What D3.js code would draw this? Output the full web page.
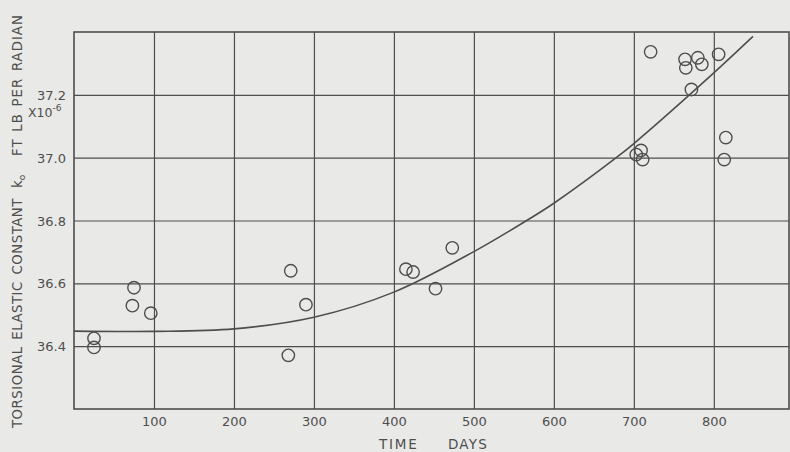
<!DOCTYPE html>
<html>
<head>
<meta charset="utf-8">
<script src="https://cdn.jsdelivr.net/npm/d3@7"></script>
<style>
  body { margin: 0; background: #e9e9e7; }
  svg text { font-family: "DejaVu Sans", sans-serif; fill: #4e4e4e; }
</style>
</head>
<body>
<script>
// measured points, time in days and k0 in 1e-6 ft lb per radian
const days   = [25, 25, 75, 73, 96, 271, 290, 268, 415, 424, 452, 473,
                721, 764, 765, 780, 785, 806, 772, 709, 703, 711, 815, 813];
const kValues = [36.425, 36.396, 36.586, 36.529, 36.505, 36.640, 36.532, 36.371,
                 36.645, 36.636, 36.583, 36.713,
                 37.337, 37.313, 37.286, 37.318, 37.297, 37.329, 37.217,
                 37.023, 37.010, 36.994, 37.064, 36.994];

// fitted curve
const curveDays = [0, 100, 200, 300, 400, 500, 566, 600, 678, 700, 800, 849];
const curveK    = [36.448, 36.447, 36.455, 36.492, 36.572, 36.701, 36.800,
                   36.855, 37.000, 37.045, 37.270, 37.386];

const xTicks = [100, 200, 300, 400, 500, 600, 700, 800];
const yTicks = [36.4, 36.6, 36.8, 37.0, 37.2];

const w = 790;
const h = 452;
const pLeft = 74, pTop = 32, pRight = 789, pBottom = 409;
const ink = "#4e4e4e";

const xScale = d3.scaleLinear().domain([0, 894]).range([pLeft, pRight]);
const yScale = d3.scaleLinear().domain([36.2, 37.4]).range([pBottom, pTop]);

const svg = d3.select("body")
  .append("svg")
  .attr("width", w)
  .attr("height", h);

// grid through the axes
const xAxis = d3.axisBottom(xScale)
  .tickValues(xTicks)
  .tickFormat(d3.format("d"))
  .tickSize(-(pBottom - pTop))
  .tickPadding(5);
const yAxis = d3.axisLeft(yScale)
  .tickValues(yTicks)
  .tickFormat(d3.format(".1f"))
  .tickSize(-(pRight - pLeft))
  .tickPadding(8);

const gx = svg.append("g")
  .attr("transform", "translate(0," + pBottom + ")")
  .attr("id", "x-axis")
  .call(xAxis);
const gy = svg.append("g")
  .attr("transform", "translate(" + pLeft + ",0)")
  .attr("id", "y-axis")
  .call(yAxis);

[gx, gy].forEach(g => {
  g.select(".domain").remove();
  g.selectAll("line").attr("stroke", ink).attr("stroke-width", 1.2);
  g.selectAll("text").attr("font-size", 13).attr("fill", ink);
});
gx.selectAll("text").attr("dy", "0.9em");
gy.selectAll("text").attr("dy", "0.35em");

// frame
svg.append("rect")
  .attr("x", pLeft)
  .attr("y", pTop)
  .attr("width", pRight - pLeft)
  .attr("height", pBottom - pTop)
  .attr("fill", "none")
  .attr("stroke", ink)
  .attr("stroke-width", 1.6);

// fitted curve
const curvePts = curveDays.map((d, i) => [d, curveK[i]]);
svg.append("path")
  .datum(curvePts)
  .attr("fill", "none")
  .attr("stroke", ink)
  .attr("stroke-width", 1.6)
  .attr("d", d3.line()
    .x(d => xScale(d[0]))
    .y(d => yScale(d[1]))
    .curve(d3.curveCatmullRom));

// data points
svg.selectAll("circle.pt")
  .data(days.map((d, i) => [d, kValues[i]]))
  .enter()
  .append("circle")
  .attr("class", "pt")
  .attr("cx", d => xScale(d[0]))
  .attr("cy", d => yScale(d[1]))
  .attr("r", 6.2)
  .attr("fill", "none")
  .attr("stroke", ink)
  .attr("stroke-width", 1.4);

// axis titles
svg.append("text")
  .attr("x", 379).attr("y", 449)
  .attr("font-size", 13.5)
  .attr("letter-spacing", 1.8)
  .text("TIME");
svg.append("text")
  .attr("x", 448).attr("y", 449)
  .attr("font-size", 13.5)
  .attr("letter-spacing", 1.2)
  .text("DAYS");

const ytitle = (yPos, txt, ls, ws) => svg.append("text")
  .attr("transform", "translate(22," + yPos + ") rotate(-90)")
  .attr("font-size", 13.3)
  .attr("letter-spacing", ls)
  .attr("word-spacing", ws)
  .text(txt);
ytitle(428, "TORSIONAL ELASTIC CONSTANT", 0.5, 2);
const k = ytitle(188, "k", 0, 0);
k.append("tspan").attr("font-size", 9).attr("dy", 3).text("o");
ytitle(156, "FT  LB PER RADIAN", 1, 1.5);

const mult = svg.append("text")
  .attr("x", 28).attr("y", 117)
  .attr("font-size", 12.5)
  .text("X10");
mult.append("tspan").attr("font-size", 9).attr("dy", -6).text("-6");
</script>
</body>
</html>
